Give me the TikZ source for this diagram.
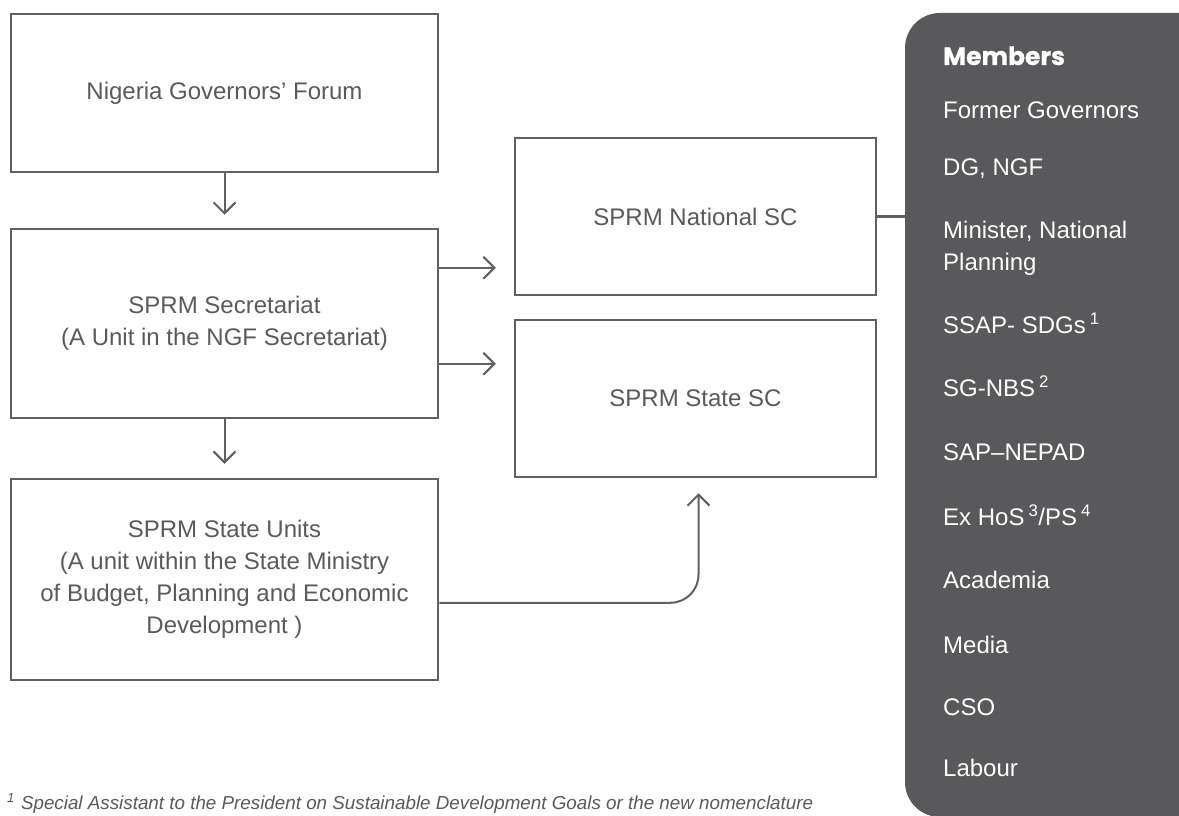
\documentclass[tikz,border=0pt]{standalone}
\usepackage{fontspec}
\setmainfont{Liberation Sans}
\newfontfamily\headfont[FakeBold=0.6]{Poppins}
\usetikzlibrary{arrows.meta,calc}
\definecolor{linec}{HTML}{606060}
\definecolor{textc}{HTML}{5A5A5A}
\definecolor{panelc}{HTML}{59595B}
\tikzset{
  box/.style={draw=linec, line width=2.5pt, text=textc, align=center, inner sep=0pt,
    font=\fontsize{24}{32}\selectfont},
  arr/.style={draw=linec, line width=2pt,
    -{Straight Barb[length=11pt,width=22pt,line width=2pt]}},
  conn/.style={draw=linec, line width=2.5pt},
  mem/.style={anchor=base west, text=white, inner sep=0pt, font=\fontsize{24}{32}\selectfont},
  memhead/.style={anchor=base west, text=white, inner sep=0pt, font=\headfont\bfseries\fontsize{25}{30}\selectfont},
  foot/.style={anchor=base west, text=textc, inner sep=0pt, font=\itshape\fontsize{18.8}{22}\selectfont}
}
\begin{document}
\begin{tikzpicture}[x=1pt,y=-1pt]
\useasboundingbox (0,0) rectangle (1179,816);
\clip (0,0) rectangle (1179,816);
\fill[white] (0,0) rectangle (1179,816);

% members panel
\node[fill=panelc, rounded corners=35pt, minimum width=335pt, minimum height=804pt, inner sep=0pt] (panel) at (1072.5,415) {};

% boxes
\node[box, minimum width=427pt, minimum height=158pt] (ngf) at (224.5,93) {\raisebox{-3pt}{Nigeria Governors’ Forum}};
\node[box, minimum width=427pt, minimum height=189pt] (sec) at (224.5,323.5) {SPRM Secretariat\\(A Unit in the NGF Secretariat)};
\node[box, minimum width=427pt, minimum height=201pt] (su) at (224.5,579.5) {SPRM State Units\\(A unit within the State Ministry\\of Budget, Planning and Economic\\Development )};
\node[box, minimum width=361pt, minimum height=157pt] (nsc) at (695.5,216.5) {\raisebox{-3pt}{SPRM National SC}};
\node[box, minimum width=361pt, minimum height=157pt] (ssc) at (695.5,398.5) {SPRM State SC};

% connectors
\draw[arr, shorten >=13pt] (ngf.south) -- (sec.north);
\draw[arr, shorten >=14pt] (sec.south) -- (su.north);
\draw[arr, shorten >=18pt] ($(sec.north east)+(0,40)$) coordinate (a1) -- (a1 -| nsc.west);
\draw[arr, shorten >=18pt] ($(sec.north east)+(0,136)$) coordinate (a2) -- (a2 -| ssc.west);
\draw[arr, rounded corners=28pt, shorten >=15pt] ($(su.north east)+(0,125)$) -| ($(ssc.south)+(3,0)$);
\draw[conn] (nsc.east) -- (nsc.east -| panel.west);

% member list
\node[memhead] (mh) at (943,65) {Members};
\node[mem] (m1) at (943,118.5) {Former Governors};
\node[mem] (m2) at (943,175.5) {DG, NGF};
\node[mem] (m3) at (943,238.5) {Minister, National};
\node[mem] (m3b) at (943,270.5) {Planning};
\node[mem] (m4) at (943,333.5) {SSAP- SDGs\,\textsuperscript{1}};
\node[mem] (m5) at (943,396.5) {SG-NBS\,\textsuperscript{2}};
\node[mem] (m6) at (943,460.5) {SAP–NEPAD};
\node[mem] (m7) at (943,525.5) {Ex HoS\,\textsuperscript{3}/PS\,\textsuperscript{4}};
\node[mem] (m8) at (943,588.5) {Academia};
\node[mem] (m9) at (943,653.5) {Media};
\node[mem] (m10) at (943,715.5) {CSO};
\node[mem] (m11) at (943,776.5) {Labour};

% footnote
\node[foot] (fn) at (7,809) {\textsuperscript{1}\hspace{6pt}Special Assistant to the President on Sustainable Development Goals or the new nomenclature};
\end{tikzpicture}
\end{document}
